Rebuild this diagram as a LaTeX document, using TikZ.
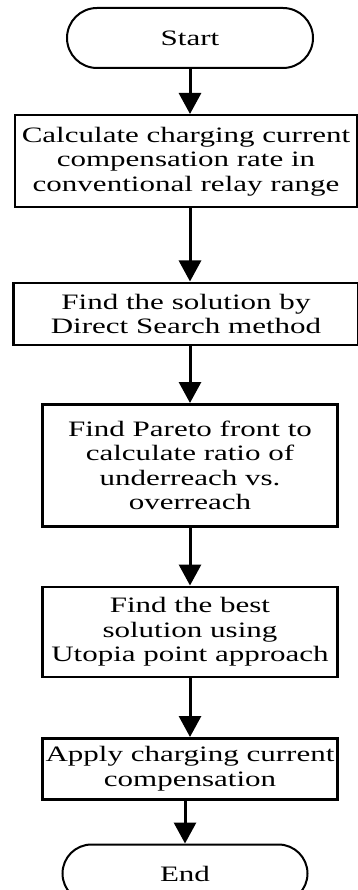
\documentclass[tikz,border=0pt]{standalone}
\usepackage{fontspec}
\setmainfont{Liberation Serif}[FakeStretch=1.41]
\usetikzlibrary{arrows.meta,shapes.misc,positioning}

\begin{document}
\begin{tikzpicture}[x=1pt,y=1pt,font=\fontsize{22}{24.5}\selectfont]
	\tikzstyle{terminal}=[draw,line width=2pt,rounded rectangle,minimum width=246pt,minimum height=60pt,inner sep=0pt]
	\tikzstyle{process}=[draw,line width=2.5pt,rectangle,align=center,minimum width=295pt,inner sep=1pt]
	\tikzstyle{flow}=[line width=3pt,-{Triangle[width=22pt,length=21pt]}]
	
	\useasboundingbox (0,0) rectangle (358,-890);
	
	\node[terminal](start) at (190,-38){Start};
	\node[process,minimum width=342pt,minimum height=92pt](calc)[below=45pt of start,xshift=-4pt]{Calculate charging current\\compensation rate in\\conventional relay range};
	\node[process,minimum width=345pt,minimum height=62pt](search)[below=73pt of calc]{Find the solution by\\Direct Search method};
	\node[process,minimum height=122pt](pareto)[below=57pt of search,xshift=4pt]{Find Pareto front to\\calculate ratio of\\underreach vs.\\overreach};
	\node[process,minimum height=90pt](utopia)[below=58pt of pareto]{Find the best\\solution using\\Utopia point approach};
	\node[process,minimum height=61pt](apply)[below=59pt of utopia]{Apply charging current\\compensation};
	\node[terminal,minimum width=245pt,minimum height=58pt](end)[below=43pt of apply,xshift=-5pt]{End};
	
	\path[flow] (start) edge (start |- calc.north);
	\path[flow] (calc.south -| start) edge (search.north -| start);
	\path[flow] (search.south -| start) edge (pareto.north -| start);
	\path[flow] (pareto.south -| start) edge (utopia.north -| start);
	\path[flow] (utopia.south -| start) edge (apply.north -| start);
	\path[flow] (apply.south -| end) edge (end);
\end{tikzpicture}
\end{document}
